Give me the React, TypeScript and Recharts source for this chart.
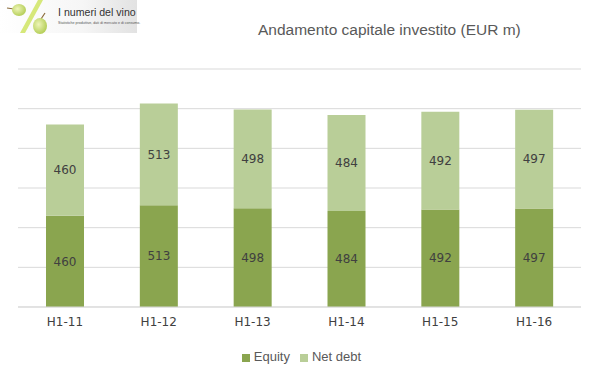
import React from "react";
import { BarChart, Bar, XAxis, YAxis, CartesianGrid, Legend, LabelList } from "recharts";

const categories = ["H1-11", "H1-12", "H1-13", "H1-14", "H1-15", "H1-16"];
const equity = [460, 513, 498, 484, 492, 497];
const netDebt = [460, 513, 498, 484, 492, 497];
const yTicks = [0, 200, 400, 600, 800, 1000, 1200];

const data = categories.map((c, i) => ({ name: c, equity: equity[i], netDebt: netDebt[i] }));

const DARK = "#8aa54f";
const LIGHT = "#b9ce98";

function Logo() {
  return (
    <svg width={150} height={36} style={{ position: "absolute", left: 0, top: 0 }}>
      <defs>
        <linearGradient id="lg" x1="0" x2="1" y1="0" y2="0">
          <stop offset="0" stopColor="#ffffff" />
          <stop offset="0.6" stopColor="#f6f6f6" />
          <stop offset="1" stopColor="#e2e2e2" />
        </linearGradient>
        <radialGradient id="gr" cx="0.4" cy="0.4" r="0.6">
          <stop offset="0" stopColor="#eef5b8" />
          <stop offset="1" stopColor="#b6cf5a" />
        </radialGradient>
      </defs>
      <rect x={0} y={0} width={137} height={33} fill="url(#lg)" />
      <line x1={7} y1={8} x2={14} y2={9} stroke="#8a6a3a" strokeWidth={1.2} />
      <ellipse cx={19} cy={10} rx={7} ry={6} fill="url(#gr)" />
      <polygon points="38,0 43,0 25,33 20,33" fill="#d6e87a" />
      <line x1={41} y1={19} x2={45} y2={13} stroke="#8a6a3a" strokeWidth={1.2} />
      <ellipse cx={40} cy={26} rx={7} ry={8} fill="url(#gr)" />
      <text x={58} y={16} fontFamily="Liberation Sans, Arial" fontSize={10.6} fill="#333">I numeri del vino</text>
      <text x={58} y={23.5} fontFamily="Liberation Sans, Arial" fontSize={3.6} fill="#555">Statistiche produttive, dati di mercato e di consumo.</text>
    </svg>
  );
}

export default function App() {
  return (
    <div style={{ position: "fixed", left: 0, top: 0, width: 599, height: 378, background: "#fff" }}>
      <Logo />
      <div
        style={{
          position: "absolute",
          left: 0,
          width: 599,
          top: 21,
          paddingLeft: 258,
          boxSizing: "border-box",
          fontFamily: "Liberation Sans, Arial, sans-serif",
          fontSize: 15.5,
          color: "#595959",
          whiteSpace: "nowrap",
        }}
      >
        Andamento capitale investito (EUR m)
      </div>
      <div style={{ position: "absolute", left: 0, top: 0 }}>
        <BarChart
          width={599}
          height={378}
          data={data}
          margin={{ top: 69, right: 18, bottom: 26, left: 18 }}
          barSize={38}
        >
          <CartesianGrid vertical={false} stroke="#d9d9d9" strokeWidth={1} />
          <XAxis
            dataKey="name"
            height={30}
            tickLine={false}
            axisLine={{ stroke: "#d9d9d9" }}
            tick={{ fill: "#404040", fontSize: 12, fontFamily: "DejaVu Sans" }}
            tickMargin={4}
          />
          <YAxis hide domain={[0, 1200]} ticks={yTicks} />
          <Legend
            verticalAlign="bottom"
            align="center"
            iconType="square"
            iconSize={8}
            wrapperStyle={{ top: 349, paddingLeft: 14, boxSizing: "border-box", fontFamily: "Liberation Sans, Arial", fontSize: 13 }}
            formatter={(v) => <span style={{ color: "#595959" }}>{v}</span>}
          />
          <Bar dataKey="equity" name="Equity" stackId="a" fill={DARK} isAnimationActive={false}>
            <LabelList dataKey="equity" position="center" fill="#404040" fontSize={12} fontFamily="DejaVu Sans" />
          </Bar>
          <Bar dataKey="netDebt" name="Net debt" stackId="a" fill={LIGHT} isAnimationActive={false}>
            <LabelList dataKey="netDebt" position="center" fill="#404040" fontSize={12} fontFamily="DejaVu Sans" />
          </Bar>
        </BarChart>
      </div>
    </div>
  );
}
